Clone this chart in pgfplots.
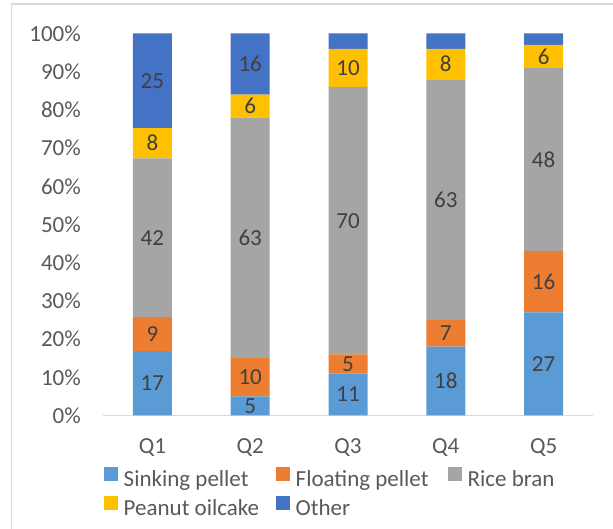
\documentclass[border=0pt]{standalone}
\usepackage{pgfplots}
\pgfplotsset{compat=1.18}
\usepackage{pgfplotstable}
\usepackage{fontspec}
\setmainfont{Carlito}
\definecolor{cS}{HTML}{5B9BD5}
\definecolor{cF}{HTML}{ED7D31}
\definecolor{cR}{HTML}{A5A5A5}
\definecolor{cP}{HTML}{FFC000}
\definecolor{cO}{HTML}{4472C4}
\definecolor{tickc}{HTML}{595959}
\definecolor{labc}{HTML}{404040}
\definecolor{framec}{HTML}{D9D9D9}
\pgfplotstableread{
x s f r p o
0 17 9 42 8 25
1 5 10 63 6 16
2 11 5 70 10 4
3 18 7 63 8 4
4 27 16 48 6 3
}\data
\newcommand\tot{(\thisrow{s}+\thisrow{f}+\thisrow{r}+\thisrow{p}+\thisrow{o})}
\newcommand\fnt{\fontsize{23}{27}\selectfont}
\newcommand\legbox[1]{\makebox[152pt][l]{#1}}
\pgfplotsset{
  seg/.style={fill=#1, draw=none,
    legend image code/.code={\fill[#1] (0pt,0pt) rectangle (14pt,14pt);}},
  geom/.style={
    at={(103.5pt,113.5pt)}, anchor=south west,
    scale only axis, width=489pt, height=382pt,
    xmin=-0.5, xmax=4.5, ymin=0, ymax=100},
  lab/.style={draw=none, mark=none, point meta=explicit,
    nodes near coords={\pgfmathfloattofixed{\pgfplotspointmeta}\pgfmathtruncatemacro\v{\pgfmathresult}\ifnum\v>4 \v\fi}},
}
\begin{document}
\begin{tikzpicture}
\draw[color=framec, line width=1.5pt] (11.7pt,0pt) |- (620pt,524.8pt);
\begin{axis}[
  geom,
  ybar stacked, bar width=39pt,
  axis x line*=bottom, axis y line*=left,
  x axis line style={draw=framec, line width=1.2pt},
  y axis line style={draw=none},
  major tick length=0pt,
  xtick={0,1,2,3,4}, xticklabels={Q1,Q2,Q3,Q4,Q5},
  ytick={0,10,...,100},
  yticklabel={\pgfmathprintnumber{\tick}\%},
  /pgf/number format/assume math mode=true,
  tick label style={font=\fnt, text=tickc},
  yticklabel style={inner sep=0pt, xshift=-22.5pt},
  xticklabel style={inner sep=0pt, anchor=base, yshift=-38.5pt},
  legend columns=3,
  legend cell align=left,
  legend style={at={(0,0)}, anchor=north west, yshift=-51.5pt, draw=none, fill=none,
    font=\fnt, text=tickc, inner sep=0pt, row sep=4pt,
    /tikz/every odd column/.append style={column sep=6pt},
    nodes={inner sep=0pt, text height=16pt, text depth=6pt}},
]
\addplot[seg=cS] table[x=x, y expr=\thisrow{s}*100/\tot] {\data};
\addplot[seg=cF] table[x=x, y expr=\thisrow{f}*100/\tot] {\data};
\addplot[seg=cR] table[x=x, y expr=\thisrow{r}*100/\tot] {\data};
\addplot[seg=cP] table[x=x, y expr=\thisrow{p}*100/\tot] {\data};
\addplot[seg=cO] table[x=x, y expr=\thisrow{o}*100/\tot] {\data};
\legend{\legbox{Sinking pellet}, \legbox{Floating pellet}, \legbox{Rice bran}, \legbox{Peanut oilcake}, \legbox{Other}}
\end{axis}
\begin{axis}[
  geom, hide axis,
  /pgf/number format/assume math mode=true,
  every node near coord/.append style={anchor=center, inner sep=0pt, font=\fnt, text=labc},
]
\addplot[lab] table[x=x, y expr={(\thisrow{s}/2)*100/\tot}, meta=s] {\data};
\addplot[lab] table[x=x, y expr={(\thisrow{s}+\thisrow{f}/2)*100/\tot}, meta=f] {\data};
\addplot[lab] table[x=x, y expr={(\thisrow{s}+\thisrow{f}+\thisrow{r}/2)*100/\tot}, meta=r] {\data};
\addplot[lab] table[x=x, y expr={(\thisrow{s}+\thisrow{f}+\thisrow{r}+\thisrow{p}/2)*100/\tot}, meta=p] {\data};
\addplot[lab] table[x=x, y expr={(\thisrow{s}+\thisrow{f}+\thisrow{r}+\thisrow{p}+\thisrow{o}/2)*100/\tot}, meta=o] {\data};
\end{axis}
\pgfresetboundingbox
\useasboundingbox (0,0) rectangle (613pt,529pt);
\end{tikzpicture}
\end{document}
